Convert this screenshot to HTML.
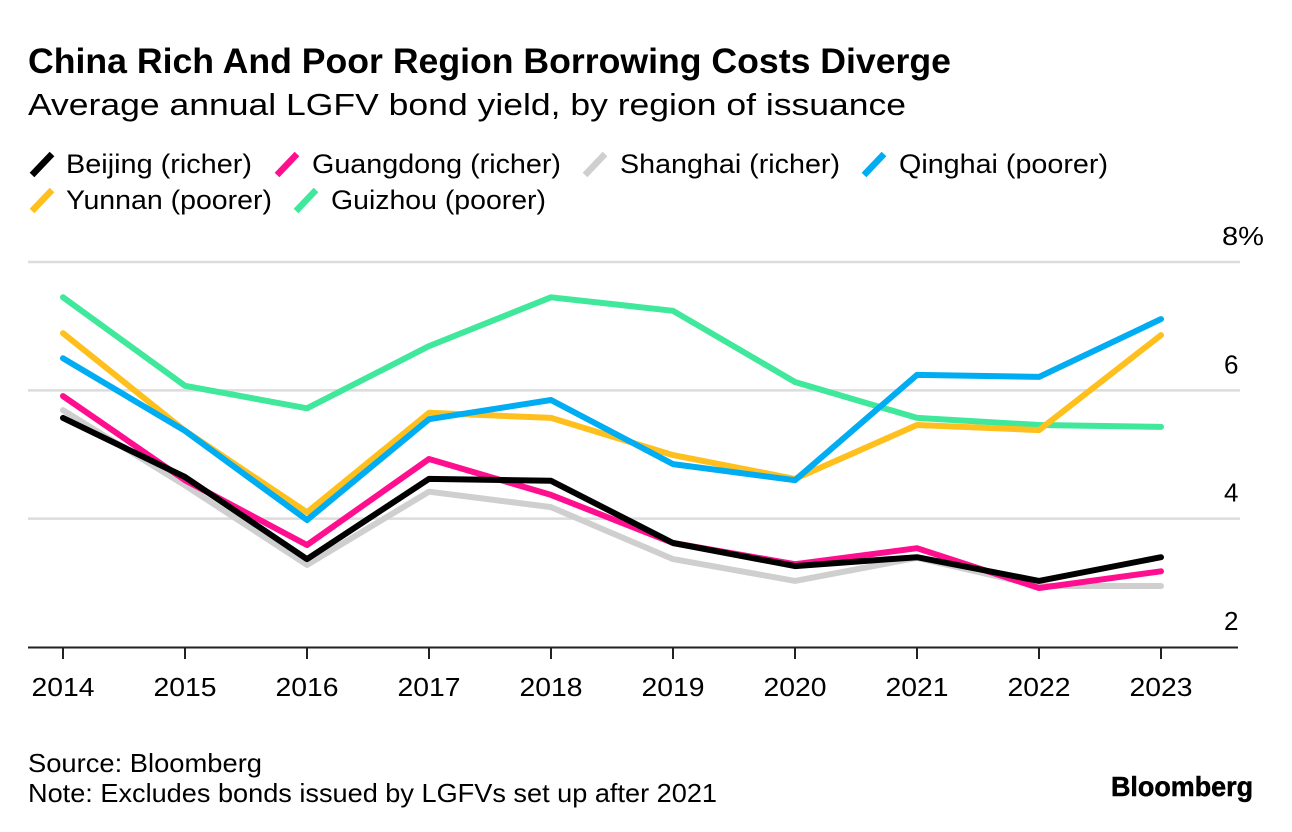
<!DOCTYPE html>
<html lang="en">
<head>
<meta charset="utf-8">
<title>China Rich And Poor Region Borrowing Costs Diverge</title>
<style>
html,body{margin:0;padding:0;background:#fff;}
body{width:1292px;height:832px;overflow:hidden;font-family:"Liberation Sans",sans-serif;}
svg{display:block;}
text{font-family:"Liberation Sans",sans-serif;fill:#000;}
</style>
</head>
<body>
<svg id="chart" width="1292" height="832" viewBox="0 0 1292 832" xmlns="http://www.w3.org/2000/svg">
  <text x="28" y="73" font-size="35" font-weight="700" textLength="923" lengthAdjust="spacingAndGlyphs">China Rich And Poor Region Borrowing Costs Diverge</text>
  <text x="28" y="115" font-size="31" textLength="878" lengthAdjust="spacingAndGlyphs">Average annual LGFV bond yield, by region of issuance</text>
  <g id="legend"></g>
  <g id="grid"></g>
  <g id="series"></g>
  <g id="xaxis"></g>
  <text x="28" y="772" font-size="26" textLength="234" lengthAdjust="spacingAndGlyphs">Source: Bloomberg</text>
  <text x="28" y="802" font-size="26" textLength="689" lengthAdjust="spacingAndGlyphs">Note: Excludes bonds issued by LGFVs set up after 2021</text>
  <text x="1111" y="796" font-size="28" font-weight="700" textLength="142" lengthAdjust="spacingAndGlyphs" stroke="#000" stroke-width="0.5">Bloomberg</text>
</svg>
<script>
const years = [2014, 2015, 2016, 2017, 2018, 2019, 2020, 2021, 2022, 2023];
const yTicks = [2, 4, 6, 8];
const yTickLabels = ['2', '4', '6', '8%'];
const guizhou = [7.45, 6.07, 5.72, 6.69, 7.45, 7.24, 6.13, 5.57, 5.46, 5.43];
const yunnan = [6.89, 5.37, 4.10, 5.65, 5.57, 4.99, 4.62, 5.46, 5.38, 6.86];
const qinghai = [6.50, 5.37, 3.98, 5.55, 5.85, 4.85, 4.60, 6.24, 6.21, 7.11];
const shanghai = [5.69, 4.52, 3.28, 4.42, 4.18, 3.37, 3.03, 3.39, 2.95, 2.95];
const guangdong = [5.91, 4.60, 3.59, 4.93, 4.37, 3.62, 3.29, 3.54, 2.92, 3.18];
const beijing = [5.57, 4.65, 3.37, 4.62, 4.59, 3.62, 3.26, 3.40, 3.03, 3.40];

const NS = 'http://www.w3.org/2000/svg';
const xOf = function (i) { return 63 + i * (1161 - 63) / (years.length - 1); };
const yOf = function (v) { return 647 - (v - 2) * (647 - 262) / 6; };

function make(parent, tag, attrs, txt) {
  const el = document.createElementNS(NS, tag);
  for (const k in attrs) el.setAttribute(k, attrs[k]);
  if (txt !== undefined) el.textContent = txt;
  parent.appendChild(el);
  return el;
}

const grid = document.getElementById('grid');
yTicks.forEach(function (t, i) {
  if (t !== 2) {
    const gl = make(grid, 'line', {x1: 28, x2: 1240, y1: yOf(t), y2: yOf(t), stroke: '#dcdcdc', 'stroke-width': 2.5});
    
    
  }
  const lab = make(grid, 'text', {x: t === 8 ? 1222 : 1224, y: yOf(t) - 17, 'font-size': 26}, yTickLabels[i]);
  if (t === 8) {
    lab.setAttribute('textLength', 42);
    lab.setAttribute('lengthAdjust', 'spacingAndGlyphs');
  }
  
  
});

const seriesGroup = document.getElementById('series');
const drawOrder = [
  {name: 'guizhou', data: guizhou, color: '#3fe89b'},
  {name: 'yunnan', data: yunnan, color: '#ffc01e'},
  {name: 'qinghai', data: qinghai, color: '#00adf2'},
  {name: 'shanghai', data: shanghai, color: '#cfcfcf'},
  {name: 'guangdong', data: guangdong, color: '#ff0f8f'},
  {name: 'beijing', data: beijing, color: '#000000'}
];
drawOrder.forEach(function (s) {
  const pts = s.data.map(function (v, i) { return xOf(i).toFixed(1) + ',' + yOf(v).toFixed(1); }).join(' ');
  const line = make(seriesGroup, 'polyline', {points: pts, fill: 'none', stroke: s.color, 'stroke-width': 6, 'stroke-linejoin': 'round', 'stroke-linecap': 'round'});
  
  
});

const xaxis = document.getElementById('xaxis');
const axisLine = make(xaxis, 'line', {x1: 28, x2: 1238, y1: 647.5, y2: 647.5, stroke: '#222', 'stroke-width': 2});


years.forEach(function (yr, i) {
  const tick = make(xaxis, 'line', {x1: xOf(i), x2: xOf(i), y1: 647, y2: 659, stroke: '#222', 'stroke-width': 2});
  
  
  const lab = make(xaxis, 'text', {x: xOf(i), y: 696, 'font-size': 26, 'text-anchor': 'middle', textLength: 63, lengthAdjust: 'spacingAndGlyphs'}, yr);
  
  
});

const legendLabels = ['Beijing (richer)', 'Guangdong (richer)', 'Shanghai (richer)', 'Qinghai (poorer)', 'Yunnan (poorer)', 'Guizhou (poorer)'];
const legendColors = ['#000000', '#ff0f8f', '#cfcfcf', '#00adf2', '#ffc01e', '#3fe89b'];
const legendSwatchX = [32, 277, 585, 864, 32, 296];
const legendTextX = [66, 312, 620, 899, 66, 331];
const legendTextW = [186, 249, 220, 209, 206, 215];
const legendRowY = [0, 0, 0, 0, 1, 1];
const legend = document.getElementById('legend');
legendLabels.forEach(function (label, i) {
  const cy = 164 + legendRowY[i] * 36;
  const sw = make(legend, 'line', {x1: legendSwatchX[i], x2: legendSwatchX[i] + 20, y1: cy + 11, y2: cy - 10, stroke: legendColors[i], 'stroke-width': 6.5});
  
  
  const t = make(legend, 'text', {x: legendTextX[i], y: cy + 9, 'font-size': 27, textLength: legendTextW[i], lengthAdjust: 'spacingAndGlyphs'}, label);
  
  
});
</script>
</body>
</html>
